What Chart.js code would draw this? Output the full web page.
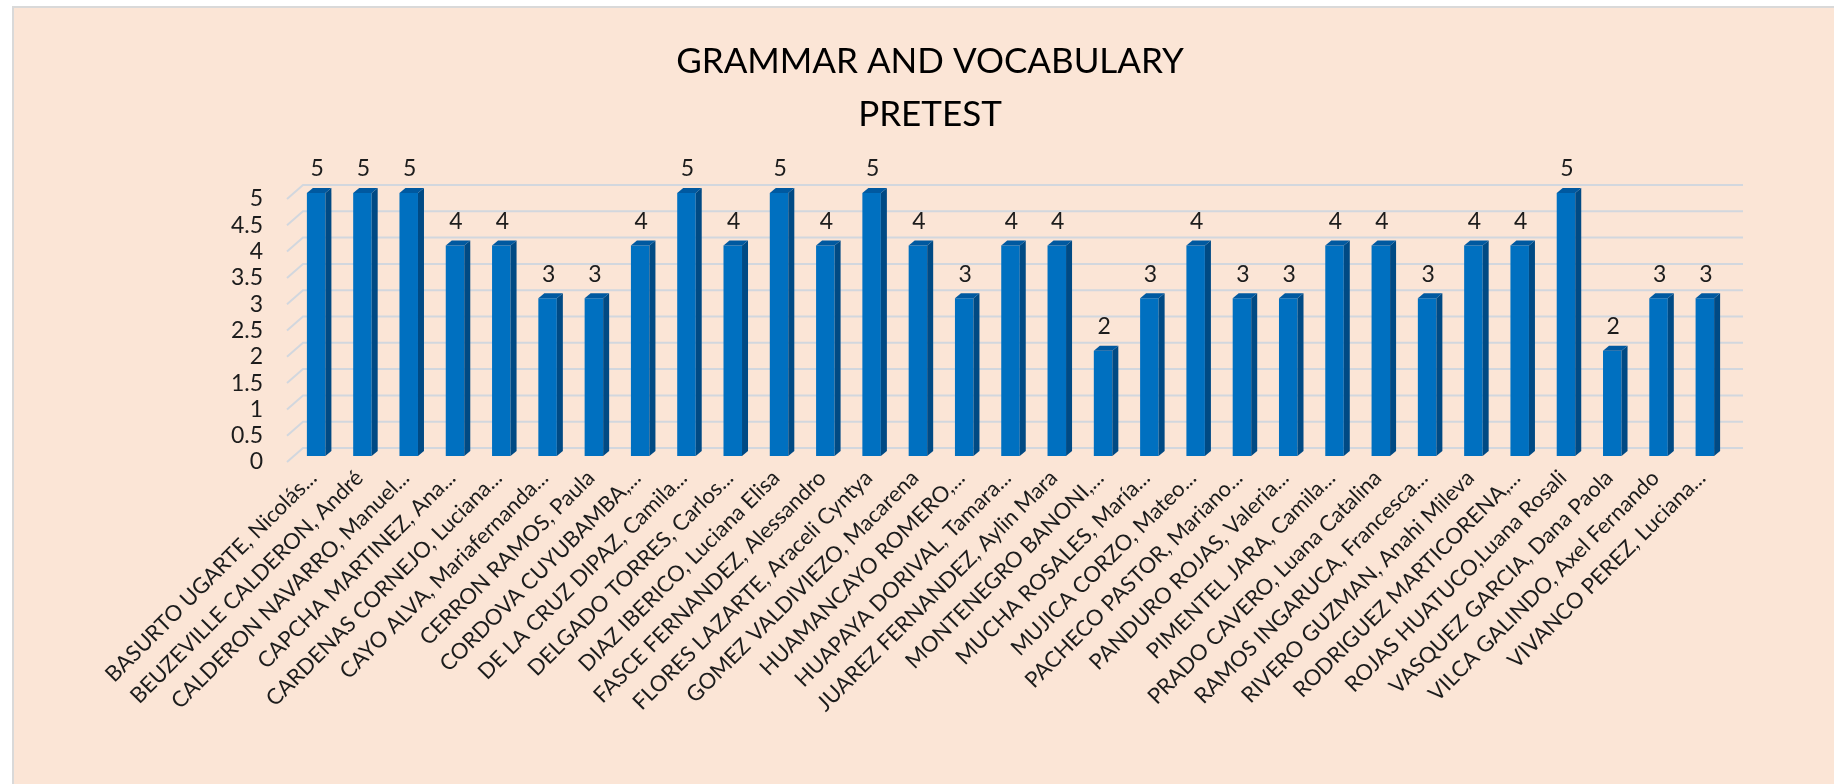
<!DOCTYPE html>
<html>
<head>
<meta charset="utf-8">
<title>Grammar and Vocabulary Pretest</title>
<script src="https://cdn.jsdelivr.net/npm/chart.js@4.4.1/dist/chart.umd.min.js"></script>
<style>
  html, body { margin: 0; padding: 0; background: #ffffff; }
  #frame {
    position: absolute; left: 12px; top: 6px; width: 1822px; height: 778px;
    box-sizing: border-box; border-left: 2px solid #d9d9d9; border-top: 2px solid #d9d9d9;
    background: #fbe5d6;
  }
  #chart { display: block; }
</style>
</head>
<body>
<div id="frame"><canvas id="chart" width="1820" height="776"></canvas></div>
<script>
// datos del gráfico
const titleLines = ['GRAMMAR AND VOCABULARY', 'PRETEST'];

const students = [
  'BASURTO UGARTE, Nicolás...', 'BEUZEVILLE CALDERON, André', 'CALDERON NAVARRO, Manuel...',
  'CAPCHA MARTINEZ, Ana...', 'CARDENAS CORNEJO, Luciana...', 'CAYO ALVA, Mariafernanda...',
  'CERRON RAMOS, Paula', 'CORDOVA CUYUBAMBA,...', 'DE LA CRUZ DIPAZ, Camila...',
  'DELGADO TORRES, Carlos...', 'DIAZ IBERICO, Luciana Elisa', 'FASCE FERNANDEZ, Alessandro',
  'FLORES LAZARTE, Araceli Cyntya', 'GOMEZ VALDIVIEZO, Macarena', 'HUAMANCAYO ROMERO,...',
  'HUAPAYA DORIVAL, Tamara...', 'JUAREZ FERNANDEZ, Aylin Mara', 'MONTENEGRO BANONI,...',
  'MUCHA ROSALES, María...', 'MUJICA CORZO, Mateo...', 'PACHECO PASTOR, Mariano...',
  'PANDURO ROJAS, Valeria...', 'PIMENTEL JARA, Camila...', 'PRADO CAVERO, Luana Catalina',
  'RAMOS INGARUCA, Francesca...', 'RIVERO GUZMAN, Anahi Mileva', 'RODRIGUEZ MARTICORENA,...',
  'ROJAS HUATUCO,Luana Rosali', 'VASQUEZ GARCIA, Dana Paola', 'VILCA GALINDO, Axel Fernando',
  'VIVANCO PEREZ, Luciana...'
];

const scores = [5, 5, 5, 4, 4, 3, 3, 4, 5, 4, 5, 4, 5, 4, 3, 4, 4, 2, 3, 4, 3, 3, 4, 4, 3, 4, 4, 5, 2, 3, 3];

const yMin = 0;
const yMax = 5;
const yStep = 0.5;

const FONT = 'Lato';
const TEXT_COLOR = '#1c1c1c';

// pared del fondo (efecto 3D de Excel)
const backWall = {
  id: 'backWall',
  beforeDatasetsDraw(chart) {
    const { ctx, chartArea, scales } = chart;
    const y = scales.y;
    ctx.save();
    ctx.strokeStyle = '#d2d7de';
    ctx.lineWidth = 2;
    y.ticks.forEach(t => {
      const py = y.getPixelForValue(t.value);
      ctx.beginPath();
      ctx.moveTo(chartArea.left - 6, py + 6);
      ctx.lineTo(chartArea.left + 10, py - 8);
      ctx.lineTo(chartArea.right + 15, py - 8);
      ctx.stroke();
    });
    ctx.restore();
  }
};

// caras laterales y superiores de las barras + etiquetas de valor
const bars3d = {
  id: 'bars3d',
  afterDatasetsDraw(chart) {
    const { ctx } = chart;
    const meta = chart.getDatasetMeta(0);
    const dx = 6, dy = 5;
    ctx.save();
    meta.data.forEach((bar, i) => {
      const { x, y, width, base } = bar.getProps(['x', 'y', 'width', 'base'], true);
      const l = x - width / 2, r = x + width / 2;

      ctx.fillStyle = '#004a84';
      ctx.beginPath();
      ctx.moveTo(r, base);
      ctx.lineTo(r, y);
      ctx.lineTo(r + dx, y - dy);
      ctx.lineTo(r + dx, base - dy);
      ctx.closePath();
      ctx.fill();

      ctx.fillStyle = '#0059a0';
      ctx.beginPath();
      ctx.moveTo(l, y);
      ctx.lineTo(r, y);
      ctx.lineTo(r + dx, y - dy);
      ctx.lineTo(l + dx, y - dy);
      ctx.closePath();
      ctx.fill();

      ctx.fillStyle = TEXT_COLOR;
      ctx.font = '23px ' + FONT;
      ctx.textAlign = 'center';
      ctx.textBaseline = 'middle';
      ctx.fillText(String(scores[i]), x + 1, y - 24);
    });
    ctx.restore();
  }
};

new Chart(document.getElementById('chart'), {
  type: 'bar',
  data: {
    labels: students,
    datasets: [{
      label: 'Pretest',
      data: scores,
      backgroundColor: '#0070c0',
      borderWidth: 0,
      barPercentage: 0.4,
      categoryPercentage: 1
    }]
  },
  options: {
    responsive: false,
    animation: false,
    layout: { padding: { left: 12 } },
    plugins: {
      legend: { display: false },
      tooltip: { enabled: false },
      title: {
        display: true,
        text: titleLines,
        color: '#000000',
        font: { family: FONT, size: 35, weight: 'normal', lineHeight: 53 / 35 },
        padding: { top: 27, bottom: 52 }
      }
    },
    scales: {
      x: {
        grid: { display: false, drawTicks: false },
        border: { display: false },
        ticks: {
          autoSkip: false,
          minRotation: 45,
          maxRotation: 45,
          padding: 9,
          labelOffset: -3,
          color: TEXT_COLOR,
          font: { family: FONT, size: 22 }
        },
        afterFit(s) { s.height = 328; }
      },
      y: {
        min: yMin,
        max: yMax,
        grid: { display: false, drawTicks: false },
        border: { display: false },
        ticks: {
          stepSize: yStep,
          autoSkip: false,
          padding: 30,
          labelOffset: 6,
          color: TEXT_COLOR,
          font: { family: FONT, size: 23 },
          callback: v => String(v)
        },
        afterFit(s) { s.width = 267; }
      },
      // eje vacío a la derecha para dejar el margen que deja Excel
      yRight: {
        type: 'linear',
        position: 'right',
        display: true,
        grid: { display: false, drawTicks: false },
        border: { display: false },
        ticks: { display: false },
        afterFit(s) { s.width = 106; }
      }
    }
  },
  plugins: [backWall, bars3d]
});
</script>
</body>
</html>
